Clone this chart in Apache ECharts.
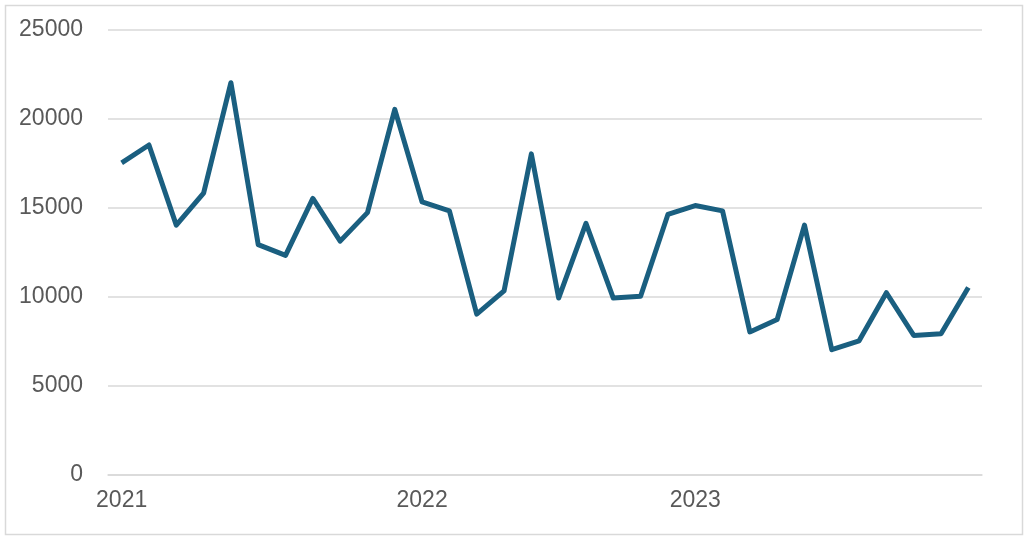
<!DOCTYPE html>
<html>
<head>
<meta charset="utf-8">
<script src="https://cdn.jsdelivr.net/npm/echarts@6/dist/echarts.min.js"></script>
<style>html,body{margin:0;padding:0;background:#fff}#c{width:1024px;height:537px}</style>
</head>
<body>
<div id="c"></div>
<script>
const periods = ['P01','P02','P03','P04','P05','P06','P07','P08','P09','P10','P11','P12','P13','P14','P15','P16','P17','P18','P19','P20','P21','P22','P23','P24','P25','P26','P27','P28','P29','P30','P31','P32'];
const values = [17500,18500,14000,15800,22000,12900,12300,15500,13100,14700,20500,15300,14800,9000,10300,18000,9900,14100,9900,10000,14600,15100,14800,8000,8700,14000,7000,7500,10200,7800,7900,10500];
const tickIndex = [0, 11, 21];
const tickLabels = ['2021', '2022', '2023'];
const yTicks = [0, 5000, 10000, 15000, 20000, 25000];

const chart = echarts.init(document.getElementById('c'), null, {renderer: 'canvas'});
const font = "'Liberation Sans', Arial, sans-serif";
chart.setOption({
  animation: false,
  backgroundColor: '#ffffff',
  graphic: [{
    type: 'rect', left: 3, top: 3, silent: true,
    shape: {width: 1017, height: 529},
    style: {fill: 'none', stroke: '#d9d9d9', lineWidth: 1.5}
  }],
  grid: {left: 108, right: 42, top: 29.3, height: 445, containLabel: false},
  xAxis: {
    type: 'category',
    data: periods,
    boundaryGap: true,
    axisLine: {show: true, lineStyle: {color: '#d9d9d9', width: 1.5}},
    axisTick: {show: false},
    axisLabel: {
      interval: (idx) => tickIndex.includes(idx),
      formatter: (v, idx) => tickLabels[tickIndex.indexOf(idx)] || '',
      color: '#595959', fontSize: 23, fontFamily: font, margin: 15
    },
    splitLine: {show: false}
  },
  yAxis: {
    type: 'value',
    min: yTicks[0], max: yTicks[yTicks.length - 1], interval: 5000,
    axisLine: {show: false},
    axisTick: {show: false},
    axisLabel: {color: '#595959', fontSize: 23, fontFamily: font, margin: 25,
      formatter: (v) => String(v)},
    splitLine: {lineStyle: {color: '#d9d9d9', width: 1.5}}
  },
  series: [{
    type: 'line',
    data: values,
    symbol: 'none',
    lineStyle: {color: '#1a5f80', width: 5, join: 'round'}
  }]
});
</script>
</body>
</html>
